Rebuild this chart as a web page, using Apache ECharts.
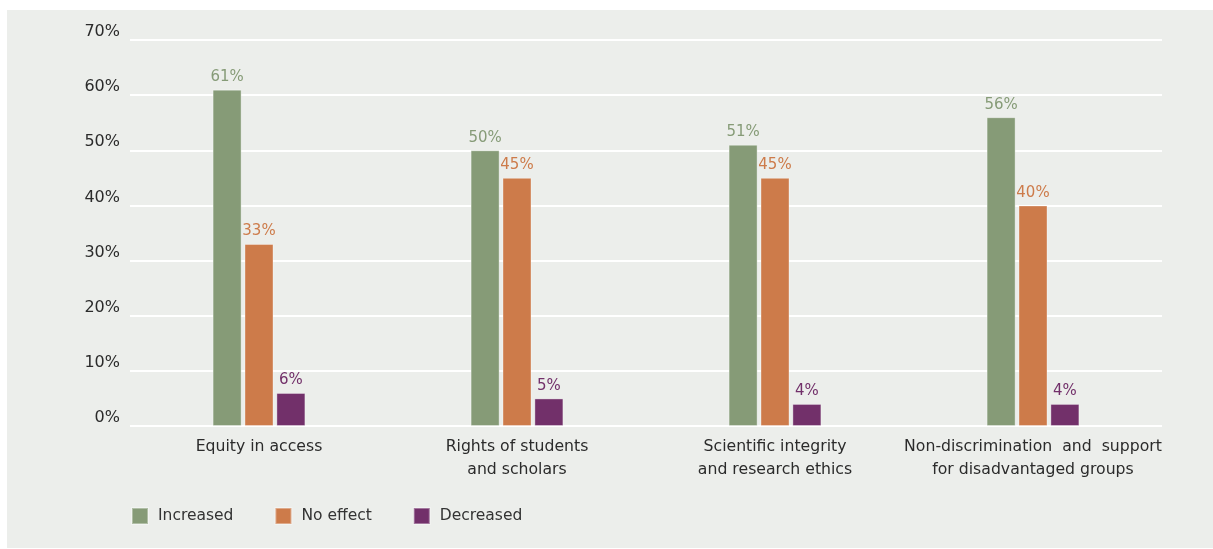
<!DOCTYPE html>
<html><head><meta charset="utf-8">
<script src="https://cdn.jsdelivr.net/npm/echarts@6/dist/echarts.min.js"></script>
<style>html,body{margin:0;padding:0;background:#fff;}#c{width:1213px;height:549px;}</style>
</head><body><div id="c"></div>
<script>
const categories = ['Equity in access', 'Rights of students\nand scholars', 'Scientific integrity\nand research ethics', 'Non-discrimination  and  support\nfor disadvantaged groups'];
const increased = [61, 50, 51, 56];
const noEffect = [33, 45, 45, 40];
const decreased = [6, 5, 4, 4];
const yTicks = [0, 10, 20, 30, 40, 50, 60, 70];

const FONT = 'DejaVu Sans';
const colors = {inc: '#869b77', no: '#cd7b4a', dec: '#72306a'};
const chart = echarts.init(document.getElementById('c'));
function mk(name, data, color) {
  return {
    name, type: 'bar', data, barWidth: 29, barGap: '10%',
    itemStyle: {color, borderColor: 'rgba(255,255,255,0.35)', borderWidth: 1},
    label: {show: true, position: 'top', distance: 5, color, fontFamily: FONT, fontSize: 15,
      formatter: p => Math.round(p.value) + '%'}
  };
}
chart.setOption({
  animation: false,
  backgroundColor: '#ffffff',
  graphic: [{type: 'rect', z: -100, silent: true, shape: {x: 7, y: 10, width: 1206, height: 538}, style: {fill: '#eceeeb'}}],
  grid: {left: 130, right: 51, top: 40, bottom: 123},
  legend: {
    left: 126, top: 502, itemWidth: 16, itemHeight: 16, itemGap: 41, icon: 'rect',
    textStyle: {fontFamily: FONT, fontSize: 15.5, color: '#333', padding: [0, 0, 0, 5]},
    data: ['Increased', 'No effect', 'Decreased']
  },
  xAxis: {
    type: 'category', data: categories,
    axisLine: {show: false}, axisTick: {show: false},
    axisLabel: {interval: 0, fontFamily: FONT, fontSize: 15.7, color: '#2b2b2b', margin: 9, lineHeight: 23}
  },
  yAxis: {
    type: 'value', min: yTicks[0], max: yTicks[yTicks.length - 1], interval: 10,
    axisLine: {show: false}, axisTick: {show: false},
    splitLine: {lineStyle: {color: '#ffffff', width: 2}},
    axisLabel: {fontFamily: FONT, fontSize: 16, color: '#2b2b2b', margin: 10, verticalAlign: 'bottom',
      formatter: v => v + '%'}
  },
  series: [mk('Increased', increased, colors.inc), mk('No effect', noEffect, colors.no), mk('Decreased', decreased, colors.dec)]
});
</script></body></html>
